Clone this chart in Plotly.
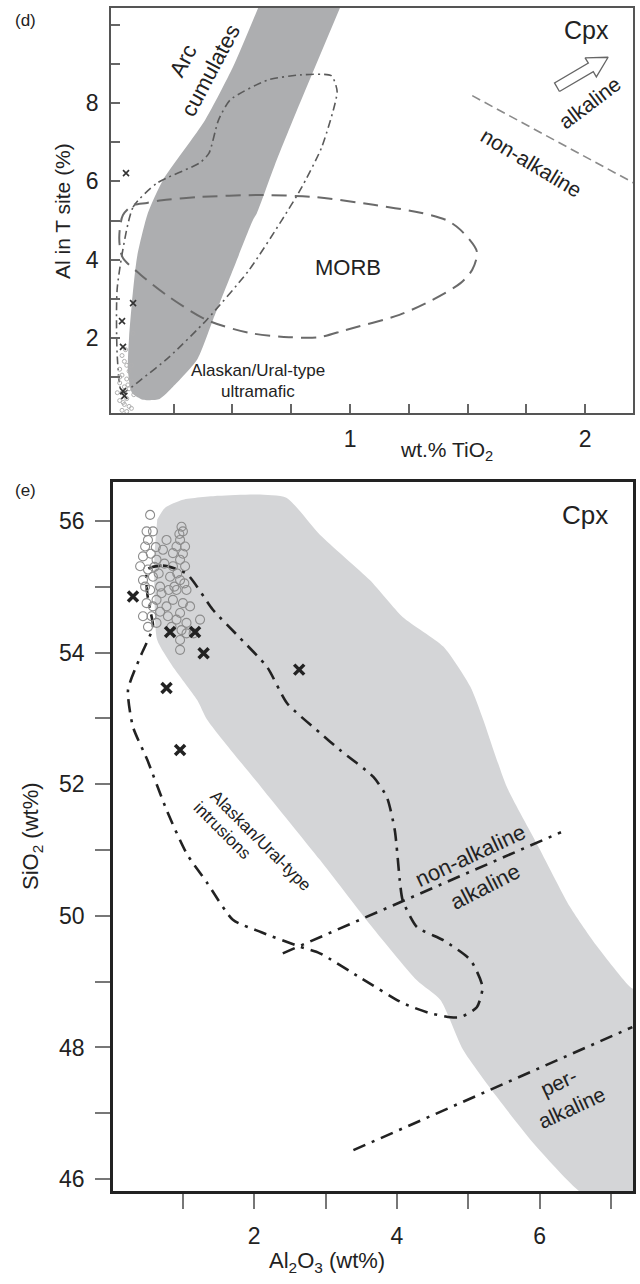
import plotly.graph_objects as go

# ---------------- Panel (d): Al in T site vs TiO2 ----------------
arc_x = [0.609, 0.502, 0.383, 0.204, 0.14, 0.094, 0.072, 0.06, 0.055, 0.072, 0.119, 0.19, 0.247, 0.349, 0.417, 0.502, 0.587, 0.604, 0.68, 0.787, 0.957]
arc_y = [10.43, 8.92, 7.56, 6.03, 5.19, 4.07, 2.89, 2.02, 1.18, 0.6, 0.42, 0.44, 0.75, 1.44, 2.46, 3.74, 5.01, 5.19, 6.42, 8.0, 10.43]

ultra_x = [0.01, 0.077, 0.18, 0.36, 0.40, 0.44, 0.49, 0.65, 0.79, 0.92, 0.945, 0.88, 0.79, 0.71, 0.57, 0.39, 0.23, 0.11, 0.03, 0.01, 0.01]
ultra_y = [3.3, 5.34, 5.96, 6.47, 6.72, 7.56, 8.08, 8.59, 8.72, 8.70, 8.3, 6.88, 5.8, 5.01, 3.73, 2.46, 1.51, 0.93, 0.6, 1.5, 3.3]

morb_x = [0.034, 0.02, 0.02, 0.034, 0.077, 0.136, 0.2, 0.36, 0.6, 0.85, 1.1, 1.3, 1.41, 1.47, 1.54, 1.52, 1.47, 1.35, 1.21, 0.98, 0.87, 0.74, 0.57, 0.39, 0.23, 0.11, 0.034]
morb_y = [4.04, 4.37, 4.75, 5.14, 5.39, 5.45, 5.52, 5.6, 5.65, 5.6, 5.4, 5.2, 5.01, 4.76, 4.2, 3.74, 3.4, 2.97, 2.59, 2.2, 2.02, 2.02, 2.13, 2.46, 3.05, 3.61, 4.04]

alk_d_x = [1.52, 2.21]
alk_d_y = [8.19, 5.95]

arrow_x = [1.891, 2.035, 2.048, 2.098, 2.000, 2.014, 1.870]
arrow_y = [8.297, 8.803, 8.670, 9.171, 9.155, 9.022, 8.517]

d_cross_x = [0.047, 0.077, 0.03, 0.034, 0.034, 0.04]
d_cross_y = [6.21, 2.89, 2.43, 1.77, 0.64, 0.52]

d_circ_x = [0.03, 0.04, 0.05, 0.02, 0.06, 0.03, 0.05, 0.07, 0.02, 0.04, 0.06, 0.03, 0.08, 0.05, 0.02,
            0.04, 0.06, 0.03, 0.05, 0.07, 0.01, 0.02, 0.07, 0.045, 0.077, 0.035, 0.055]
d_circ_y = [1.55, 1.4, 1.3, 1.2, 1.15, 1.05, 0.95, 0.9, 0.85, 0.75, 0.7, 0.6, 0.55, 0.45, 0.4,
            0.3, 0.25, 0.15, 0.12, 0.2, 0.6, 1.0, 1.3, 1.7, 2.12, 0.35, 0.8]

d_xticks = [0.25, 0.5, 0.75, 1, 1.25, 1.5, 1.75, 2]
d_xlabels = ['', '', '', '1', '', '', '', '2']
d_yticks = [1, 2, 3, 4, 5, 6, 7, 8, 9, 10]
d_ylabels = ['', '2', '', '4', '', '6', '', '8', '', '']

# ---------------- Panel (e): SiO2 vs Al2O3 ----------------
grey_e_x = [0.64, 0.75, 1.0, 1.5, 2.04, 2.45, 2.92, 3.62, 4.08, 4.65, 5.03, 5.21, 5.54, 5.96, 6.43, 6.81, 7.27,
            7.45, 7.45, 6.70, 5.96, 5.40, 4.93, 4.61, 4.28, 3.6, 2.92, 2.1, 1.34, 1.2, 0.85, 0.64, 0.60, 0.60]
grey_e_y = [56.02, 56.2, 56.32, 56.38, 56.4, 56.35, 55.79, 55.1, 54.54, 54.09, 53.48, 52.98, 51.96, 51.1, 50.13, 49.53, 48.92,
            48.8, 45.6, 45.7, 46.49, 47.25, 47.96, 48.72, 49.02, 49.9, 50.85, 51.95, 52.98, 53.28, 53.8, 54.19, 54.9, 55.5]

loop_x = [0.50, 0.72, 1.05, 1.42, 1.80, 2.18, 2.46, 2.92, 3.20, 3.67, 3.86, 3.97, 4.04, 4.08, 4.28, 4.65, 5.03, 5.20,
          5.12, 4.89, 4.75, 4.47, 4.09, 3.5, 2.92, 2.64, 2.1, 1.70, 1.34, 1.05, 0.77, 0.50, 0.30, 0.23, 0.40, 0.58,
          0.54, 0.50, 0.50]
loop_y = [55.26, 55.32, 55.20, 54.65, 54.22, 53.78, 53.23, 52.78, 52.52, 52.11, 51.80, 51.30, 50.54, 50.24, 49.83, 49.63, 49.33, 48.92,
          48.61, 48.46, 48.46, 48.52, 48.67, 49.05, 49.43, 49.53, 49.75, 49.94, 50.50, 50.95, 51.61, 52.37, 52.87, 53.43, 53.93, 54.39,
          54.65, 54.90, 55.26]

alk_e_x = [2.4, 6.3]
alk_e_y = [49.43, 51.27]
per_e_x = [3.39, 7.3]
per_e_y = [46.44, 48.31]

e_cross_x = [0.30, 0.82, 1.17, 1.29, 2.63, 0.77, 0.96]
e_cross_y = [54.85, 54.31, 54.31, 53.99, 53.74, 53.46, 52.52]

e_circ_x = [0.54, 0.49, 0.51, 0.58, 0.47, 0.44, 0.40, 0.51, 0.44, 0.58, 0.63, 0.72, 0.77, 0.68, 0.54, 0.49, 0.63, 0.56,
            0.44, 0.51, 0.68, 0.63, 0.60, 0.66, 0.70, 0.74, 0.47, 0.55, 0.62, 0.58,
            0.98, 1.00, 0.96, 0.91, 1.03, 0.86, 0.96, 0.86, 1.03, 0.82, 0.96, 0.91, 1.05, 0.86, 1.00, 0.77, 1.10, 0.96,
            0.91, 1.05, 0.84, 0.98, 0.96, 0.96, 1.24, 1.15, 1.05, 0.79, 1.00, 0.92, 1.02, 0.88, 0.95, 0.80]
e_circ_y = [56.09, 55.84, 55.71, 55.84, 55.61, 55.46, 55.31, 55.26, 55.10, 55.15, 55.41, 55.56, 55.71, 55.00, 54.95, 54.75, 54.80, 54.55,
            54.55, 54.39, 54.62, 54.45, 55.30, 55.20, 54.90, 55.35, 55.00, 55.50, 55.60, 54.70,
            55.91, 55.84, 55.71, 55.61, 55.61, 55.51, 55.41, 55.31, 55.31, 55.15, 55.10, 54.95, 54.95, 54.80, 54.75, 54.70, 54.70, 54.60,
            54.50, 54.45, 54.39, 54.34, 54.19, 54.04, 54.50, 54.29, 54.29, 54.55, 55.50, 55.20, 55.05, 55.00, 55.80, 54.95]

e_xticks = [1, 2, 3, 4, 5, 6, 7]
e_xlabels = ['', '2', '', '4', '', '6', '']
e_yticks = [46, 47, 48, 49, 50, 51, 52, 53, 54, 55, 56]
e_ylabels = ['46', '', '48', '', '50', '', '52', '', '54', '', '56']

FONT = "Liberation Sans, Arial, sans-serif"
TXT = "#222222"

fig = go.Figure()

# ---- panel d traces
fig.add_trace(go.Scatter(x=arc_x, y=arc_y, mode='lines', fill='toself', fillcolor='#adaeb0',
                         line=dict(color='#adaeb0', width=0, shape='spline', smoothing=0.6),
                         xaxis='x', yaxis='y', hoverinfo='skip'))
fig.add_trace(go.Scatter(x=ultra_x, y=ultra_y, mode='lines',
                         line=dict(color='#5a5a5a', width=1.6, dash='8px,4px,2px,4px', shape='spline', smoothing=0.6),
                         xaxis='x', yaxis='y', hoverinfo='skip'))
fig.add_trace(go.Scatter(x=morb_x, y=morb_y, mode='lines',
                         line=dict(color='#6a6a6a', width=2, dash='15px,8px', shape='spline', smoothing=0.8),
                         xaxis='x', yaxis='y', hoverinfo='skip'))
fig.add_trace(go.Scatter(x=alk_d_x, y=alk_d_y, mode='lines',
                         line=dict(color='#8a8a8a', width=1.6, dash='9px,5px'),
                         xaxis='x', yaxis='y', hoverinfo='skip'))
fig.add_trace(go.Scatter(x=arrow_x + arrow_x[:1], y=arrow_y + arrow_y[:1], mode='lines', fill='toself',
                         fillcolor='white', line=dict(color='#666666', width=1.3),
                         xaxis='x', yaxis='y', hoverinfo='skip'))
fig.add_trace(go.Scatter(x=d_circ_x, y=d_circ_y, mode='markers',
                         marker=dict(symbol='circle-open', size=4, color='#b0b0b0', line=dict(width=1)),
                         xaxis='x', yaxis='y', hoverinfo='skip'))
fig.add_trace(go.Scatter(x=d_cross_x, y=d_cross_y, mode='markers',
                         marker=dict(symbol='x-thin', size=6, color='#333333', line=dict(width=1.6, color='#333333')),
                         xaxis='x', yaxis='y', hoverinfo='skip'))

# ---- panel e traces
fig.add_trace(go.Scatter(x=grey_e_x, y=grey_e_y, mode='lines', fill='toself', fillcolor='#d4d5d7',
                         line=dict(color='#d4d5d7', width=0, shape='spline', smoothing=0.6),
                         xaxis='x2', yaxis='y2', hoverinfo='skip'))
fig.add_trace(go.Scatter(x=loop_x, y=loop_y, mode='lines',
                         line=dict(color='#222222', width=2.6, dash='13px,7px,3px,7px', shape='spline', smoothing=0.6),
                         xaxis='x2', yaxis='y2', hoverinfo='skip'))
fig.add_trace(go.Scatter(x=alk_e_x, y=alk_e_y, mode='lines',
                         line=dict(color='#222222', width=2.6, dash='13px,7px,3px,7px'),
                         xaxis='x2', yaxis='y2', hoverinfo='skip'))
fig.add_trace(go.Scatter(x=per_e_x, y=per_e_y, mode='lines',
                         line=dict(color='#222222', width=2.6, dash='13px,7px,3px,7px'),
                         xaxis='x2', yaxis='y2', hoverinfo='skip'))
fig.add_trace(go.Scatter(x=e_circ_x, y=e_circ_y, mode='markers',
                         marker=dict(symbol='circle-open', size=9, color='#8c8c8c', line=dict(width=1.1)),
                         xaxis='x2', yaxis='y2', hoverinfo='skip'))
fig.add_trace(go.Scatter(x=e_cross_x, y=e_cross_y, mode='markers',
                         marker=dict(symbol='x-thin', size=10, color='#222222', line=dict(width=3.5, color='#222222')),
                         xaxis='x2', yaxis='y2', hoverinfo='skip'))

tickfont = dict(family=FONT, size=23, color=TXT)

fig.update_layout(
    width=640, height=1284,
    margin=dict(l=0, r=0, t=0, b=0),
    paper_bgcolor='white', plot_bgcolor='white',
    showlegend=False,
    xaxis=dict(domain=[0.1734, 0.9891], anchor='y', range=[-0.017, 2.204],
               tickmode='array', tickvals=d_xticks, ticktext=d_xlabels,
               ticks='inside', ticklen=9, tickwidth=1.5, tickcolor='#666666',
               showline=True, linecolor='#555555', linewidth=1.5, mirror=True,
               showgrid=False, zeroline=False, tickfont=tickfont, ticklabelstandoff=5),
    yaxis=dict(domain=[0.6783, 0.99377], anchor='x', range=[0.08, 10.43],
               tickmode='array', tickvals=d_yticks, ticktext=d_ylabels,
               ticks='inside', ticklen=9, tickwidth=1.5, tickcolor='#666666',
               showline=True, linecolor='#555555', linewidth=1.5, mirror=True,
               showgrid=False, zeroline=False, tickfont=tickfont, ticklabelstandoff=6),
    xaxis2=dict(domain=[0.1766, 0.9891], anchor='y2', range=[0.02, 7.31],
                tickmode='array', tickvals=e_xticks, ticktext=e_xlabels,
                ticks='outside', ticklen=15, tickwidth=2, tickcolor='#777777',
                showline=True, linecolor='#222222', linewidth=2.5, mirror=True,
                showgrid=False, zeroline=False, tickfont=tickfont, ticklabelstandoff=8),
    xaxis3=dict(overlaying='x2', anchor='y2', side='top', range=[0.02, 7.31],
                tickmode='array', tickvals=e_xticks, ticktext=['' for _ in e_xticks],
                ticks='inside', ticklen=15, tickwidth=2, tickcolor='#777777',
                showline=False, showgrid=False, zeroline=False),
    yaxis2=dict(domain=[0.07243, 0.62461], anchor='x2', range=[45.82, 56.59],
                tickmode='array', tickvals=e_yticks, ticktext=e_ylabels,
                ticks='outside', ticklen=15, tickwidth=2, tickcolor='#777777',
                showline=True, linecolor='#222222', linewidth=2.5, mirror=True,
                showgrid=False, zeroline=False, tickfont=tickfont, ticklabelstandoff=6),
)

def ann(text, x, y, size, angle=0, xref='x', yref='y', color=TXT):
    fig.add_annotation(text=text, x=x, y=y, xref=xref, yref=yref, showarrow=False,
                       textangle=angle, font=dict(family=FONT, size=size, color=color),
                       xanchor='center', yanchor='middle')

# panel d labels
ann('Cpx', 2.004, 9.86, 25)
ann('Arc', 0.289, 9.10, 22, -62)
ann('cumulates', 0.405, 8.84, 22, -62)
ann('alkaline', 2.02, 8.02, 21, -37)
ann('non-alkaline', 1.77, 6.49, 21, 31)
ann('MORB', 0.99, 3.81, 22)
ann('Alaskan/Ural-type', 0.61, 1.18, 17)
ann('ultramafic', 0.61, 0.62, 17)

# panel e labels
ann('Cpx', 6.64, 56.09, 26, 0, 'x2', 'y2')
ann('non-alkaline', 5.03, 50.92, 22, -25, 'x2', 'y2')
ann('alkaline', 5.24, 50.44, 22, -27, 'x2', 'y2')
ann('per-', 6.26, 47.47, 21, -25, 'x2', 'y2')
ann('alkaline', 6.45, 47.09, 21, -25, 'x2', 'y2')
ann('Alaskan/Ural-type', 2.09, 51.15, 17, 45, 'x2', 'y2')
ann('intrusions', 1.55, 51.30, 17, 45, 'x2', 'y2')

# panel tags and axis titles
ann('(d)', 0.0406, 0.98442, 17, 0, 'paper', 'paper')
ann('(e)', 0.0406, 0.61838, 17, 0, 'paper', 'paper')
ann('Al in T site (%)', 0.0984, 0.83567, 21, -90, 'paper', 'paper')
ann('wt.% TiO<sub>2</sub>', 0.6984, 0.64875, 21, 0, 'paper', 'paper')
ann('SiO<sub>2</sub> (wt%)', 0.05, 0.3489, 22, -90, 'paper', 'paper')
ann('Al<sub>2</sub>O<sub>3</sub> (wt%)', 0.5109, 0.01713, 22, 0, 'paper', 'paper')

fig.write_html("out.html")
